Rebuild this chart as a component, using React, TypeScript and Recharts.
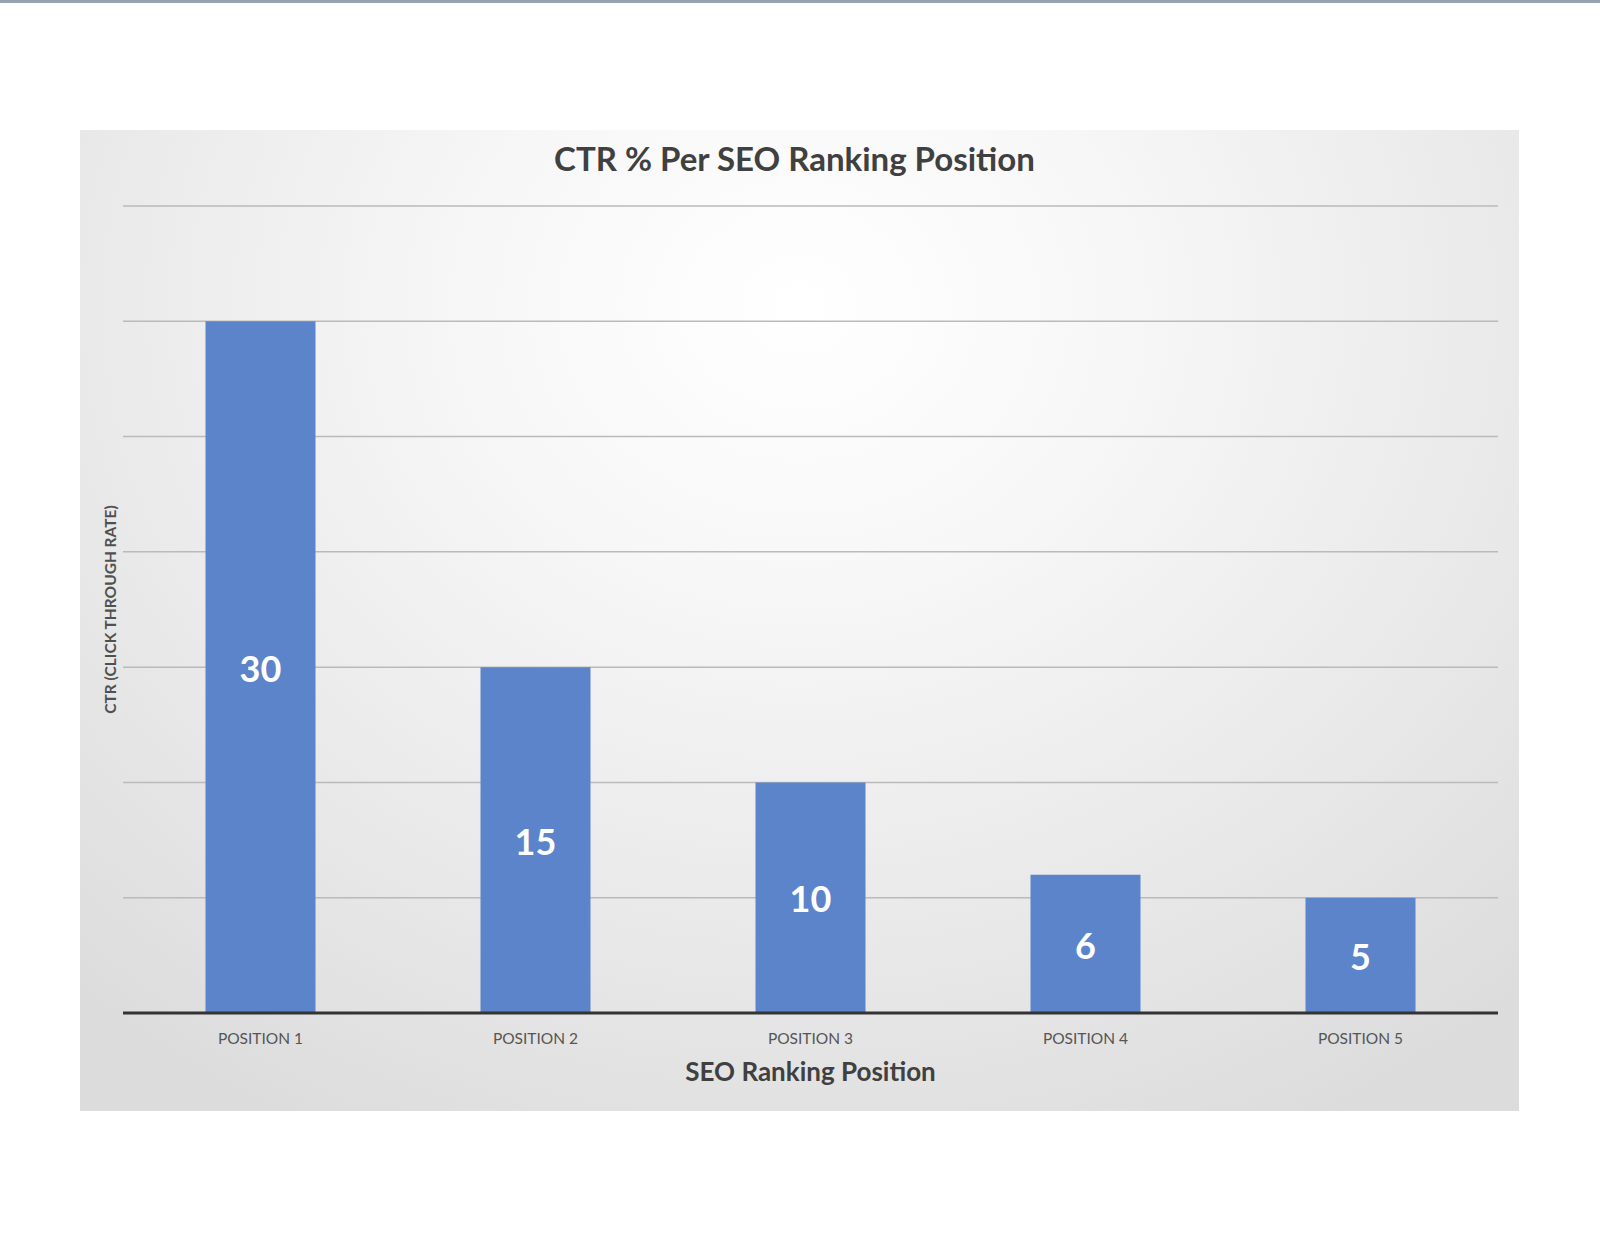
import React from "react";
import {
  BarChart,
  Bar,
  XAxis,
  YAxis,
  CartesianGrid,
  LabelList,
} from "recharts";

const positions = ["POSITION 1", "POSITION 2", "POSITION 3", "POSITION 4", "POSITION 5"];
const ctrValues = [30, 15, 10, 6, 5];
const yTicks = [0, 5, 10, 15, 20, 25, 30, 35];

const data = positions.map((name, i) => ({ name, ctr: ctrValues[i] }));

const FONT = "Lato, 'Open Sans', sans-serif";

const EmptyTick = () => <g />;

export default function App() {
  return (
    <div
      style={{
        position: "absolute",
        left: 0,
        top: 0,
        width: 1600,
        height: 1236,
        background: "#ffffff",
        fontFamily: FONT,
        overflow: "hidden",
      }}
    >
      <div style={{ position: "absolute", left: 0, top: 0, width: 1600, height: 3, background: "#97a3ae" }} />
      <div
        style={{
          position: "absolute",
          left: 80,
          top: 130,
          width: 1439,
          height: 981,
          background:
            "radial-gradient(ellipse 75% 95% at 50% 18%, #ffffff 0%, #f7f7f7 30%, #e8e8e8 70%, #dcdcdc 100%)",
        }}
      >
        <div
          style={{
            position: "absolute",
            left: 0,
            top: 9,
            width: 1429,
            textAlign: "center",
            fontSize: 33,
            fontWeight: 700,
            color: "#404040",
            lineHeight: "38px",
          }}
        >
          CTR % Per SEO Ranking Position
        </div>
        <BarChart
          width={1439}
          height={981}
          data={data}
          margin={{ top: 76, right: 21, bottom: 23, left: 0 }}
          barCategoryGap="30%"
          style={{ position: "absolute", left: 0, top: 0 }}
        >
          <CartesianGrid vertical={false} stroke="#bababa" strokeWidth={1.5} />
          <YAxis
            width={43}
            domain={[0, 35]}
            ticks={yTicks}
            tick={EmptyTick}
            tickLine={false}
            axisLine={false}
            label={{
              value: "CTR (CLICK THROUGH RATE)",
              angle: -90,
              position: "center",
              dx: 9,
              fill: "#505050",
              fontSize: 15.5,
              fontWeight: 700,
              fontFamily: FONT,
            }}
          />
          <XAxis
            dataKey="name"
            height={75}
            tickLine={false}
            axisLine={{ stroke: "#333333", strokeWidth: 3 }}
            tick={{ fill: "#555555", fontSize: 15.5, fontFamily: FONT }}
            tickMargin={14}
            label={{
              value: "SEO Ranking Position",
              position: "insideBottom",
              offset: 7,
              fill: "#404040",
              fontSize: 26,
              fontWeight: 700,
              fontFamily: FONT,
            }}
          />
          <Bar dataKey="ctr" fill="#5b84ca" isAnimationActive={false}>
            <LabelList
              dataKey="ctr"
              position="center"
              fill="#ffffff"
              fontSize={36}
              fontWeight={700}
              fontFamily={FONT}
              dy={2}
            />
          </Bar>
        </BarChart>
      </div>
    </div>
  );
}
